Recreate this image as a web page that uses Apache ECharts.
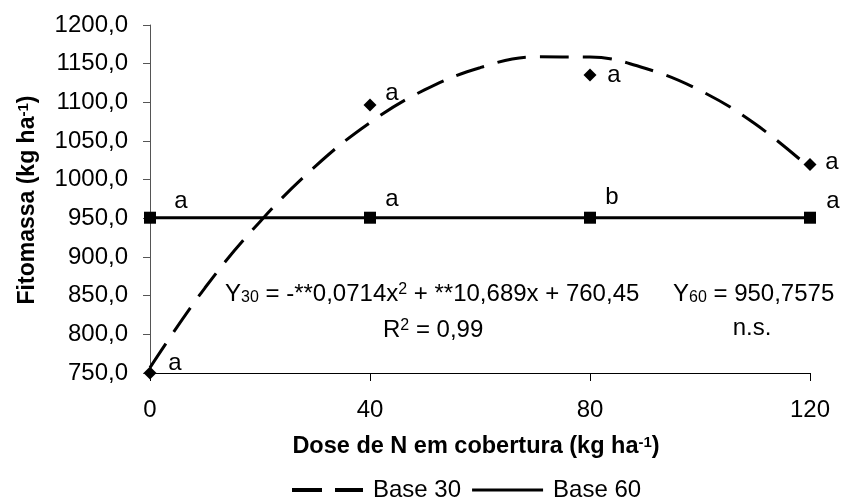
<!DOCTYPE html>
<html>
<head>
<meta charset="utf-8">
<script src="https://cdn.jsdelivr.net/npm/echarts@6/dist/echarts.min.js"></script>
<style>
  html, body { margin: 0; padding: 0; background: #fff; }
  #chart { width: 841px; height: 498px; }
</style>
</head>
<body>
<div id="chart"></div>
<script>
// Doses of N top-dressing (kg ha-1)
const doses = [0, 40, 80, 120];

// Observed biomass, Base 30 (diamonds) and Base 60 (squares)
const base30Obs = [750, 1096.5, 1135.3, 1019.5];
const base60Obs = [950.8, 950.8, 950.8, 950.8];

// Tukey letters written next to each point
const base30Letters = ['a', 'a', 'a', 'a'];
const base60Letters = ['a', 'a', 'b', 'a'];

// Base 30 fitted curve, read along its path
const curveX = [0, 10, 20, 30, 40, 50, 60, 70, 80, 90, 100, 110, 120];
const curveY = [757, 860.2, 945.7, 1016.9, 1073.8, 1116.4, 1144.8, 1158.8, 1158.6, 1144.1, 1115.4, 1072.3, 1015.0];

// Base 60 fitted (constant) line
const base60FitX = [0, 120];
const base60FitY = [950.7575, 950.7575];

// Axis ticks
const xTicks = [0, 40, 80, 120];
const yTicks = [750, 800, 850, 900, 950, 1000, 1050, 1100, 1150, 1200];

// Letter nudges (px) relative to each marker
const nudge30 = [[25, -10], [22, -12], [24, 0], [22, -2]];
const nudge60 = [[31, -16], [22, -18], [22, -20], [23, -16]];

const FONT = '"Liberation Sans", Arial, sans-serif';
const comma1 = v => v.toFixed(1).replace('.', ',');

function pointsWithLetters(xs, ys, letters, nudges) {
  return xs.map((x, i) => ({
    value: [x, ys[i]],
    label: { formatter: letters[i], offset: nudges[i] }
  }));
}

const chart = echarts.init(document.getElementById('chart'), null, { renderer: 'canvas' });

const dash = [29, 14];
// Legend swatches: long-dash and solid strokes
const iconDash = 'path://M0,0H30V4H0Z M43,0H71V4H43Z';
const iconSolid = 'path://M0,0.5H71V3.5H0Z';

chart.setOption({
  animation: false,
  backgroundColor: '#ffffff',
  textStyle: { fontFamily: FONT, color: '#000' },
  grid: { left: 150, right: 31, top: 25, bottom: 125, containLabel: false },
  xAxis: {
    type: 'value',
    min: xTicks[0],
    max: xTicks[xTicks.length - 1],
    interval: xTicks[1] - xTicks[0],
    axisLine: { lineStyle: { color: '#000', width: 1 } },
    axisTick: { show: true, length: 8, lineStyle: { color: '#000' } },
    axisLabel: { fontSize: 24, fontFamily: FONT, color: '#000', margin: 25 },
    splitLine: { show: false }
  },
  yAxis: {
    type: 'value',
    min: yTicks[0],
    max: yTicks[yTicks.length - 1],
    interval: yTicks[1] - yTicks[0],
    axisLine: { show: true, lineStyle: { color: '#555', width: 1 } },
    axisTick: { show: true, length: 7, lineStyle: { color: '#555' } },
    axisLabel: { fontSize: 24, fontFamily: FONT, color: '#000', margin: 22, formatter: comma1 },
    splitLine: { show: false }
  },
  legend: {
    left: 292,
    top: 478,
    padding: 0,
    itemWidth: 71,
    itemHeight: 4,
    itemGap: 11,
    textStyle: { fontSize: 24, fontFamily: FONT, color: '#000', padding: [0, 0, 0, 5] },
    data: [
      { name: 'Base 30', icon: iconDash, itemStyle: { color: '#000', opacity: 1 } },
      { name: 'Base 60', icon: iconSolid, itemStyle: { color: '#000', opacity: 1 } }
    ]
  },
  series: [
    {
      name: 'Base 30',
      type: 'line',
      data: curveX.map((x, i) => [x, curveY[i]]),
      smooth: 0.4,
      symbol: 'none',
      lineStyle: { color: '#000', width: 3, type: dash, cap: 'butt' },
      itemStyle: { color: '#000' },
      z: 2
    },
    {
      name: 'Base 60',
      type: 'line',
      data: base60FitX.map((x, i) => [x, base60FitY[i]]),
      symbol: 'none',
      lineStyle: { color: '#000', width: 3, type: 'solid' },
      itemStyle: { color: '#000' },
      z: 2
    },
    {
      name: 'Base 30 obs',
      type: 'scatter',
      data: pointsWithLetters(doses, base30Obs, base30Letters, nudge30),
      symbol: 'diamond',
      symbolSize: 13,
      itemStyle: { color: '#000', opacity: 1 },
      label: {
        show: true, position: 'inside', align: 'center', verticalAlign: 'middle',
        fontSize: 24, fontFamily: FONT, color: '#000'
      },
      z: 3
    },
    {
      name: 'Base 60 obs',
      type: 'scatter',
      data: pointsWithLetters(doses, base60Obs, base60Letters, nudge60),
      symbol: 'rect',
      symbolSize: 12,
      itemStyle: { color: '#000', opacity: 1 },
      label: {
        show: true, position: 'inside', align: 'center', verticalAlign: 'middle',
        fontSize: 24, fontFamily: FONT, color: '#000'
      },
      z: 3
    }
  ],
  graphic: [
    {
      type: 'text',
      x: 476, y: 447,
      style: {
        text: '{t|Dose de N em cobertura (kg ha}{s|-1}{t|)}',
        align: 'center', verticalAlign: 'middle',
        rich: {
          t: { fontSize: 23.5, fontWeight: 'bold', fontFamily: FONT, fill: '#000' },
          s: { fontSize: 15, fontWeight: 'bold', fontFamily: FONT, fill: '#000', verticalAlign: 'top' }
        }
      }
    },
    {
      type: 'text',
      x: 28, y: 200,
      rotation: Math.PI / 2,
      style: {
        text: '{t|Fitomassa (kg ha}{s|-1}{t|)}',
        align: 'center', verticalAlign: 'middle',
        rich: {
          t: { fontSize: 23, fontWeight: 'bold', fontFamily: FONT, fill: '#000' },
          s: { fontSize: 15, fontWeight: 'bold', fontFamily: FONT, fill: '#000', verticalAlign: 'top' }
        }
      }
    },
    {
      type: 'text',
      x: 225, y: 294,
      style: {
        text: '{t|Y}{b|30}{t| = -**0,0714x}{p|2}{t| + **10,689x + 760,45}',
        align: 'left', verticalAlign: 'middle',
        rich: {
          t: { fontSize: 24, fontFamily: FONT, fill: '#000' },
          b: { fontSize: 16, fontFamily: FONT, fill: '#000', verticalAlign: 'bottom', padding: [6, 0, 0, 0] },
          p: { fontSize: 16, fontFamily: FONT, fill: '#000', verticalAlign: 'top' }
        }
      }
    },
    {
      type: 'text',
      x: 383, y: 330,
      style: {
        text: '{t|R}{p|2}{t| = 0,99}',
        align: 'left', verticalAlign: 'middle',
        rich: {
          t: { fontSize: 24, fontFamily: FONT, fill: '#000' },
          p: { fontSize: 16, fontFamily: FONT, fill: '#000', verticalAlign: 'top' }
        }
      }
    },
    {
      type: 'text',
      x: 673, y: 294,
      style: {
        text: '{t|Y}{b|60}{t| = 950,7575}',
        align: 'left', verticalAlign: 'middle',
        rich: {
          t: { fontSize: 24, fontFamily: FONT, fill: '#000' },
          b: { fontSize: 16, fontFamily: FONT, fill: '#000', verticalAlign: 'bottom', padding: [6, 0, 0, 0] }
        }
      }
    },
    {
      type: 'text',
      x: 752, y: 328,
      style: {
        text: 'n.s.',
        align: 'center', verticalAlign: 'middle',
        fontSize: 24, fontFamily: FONT, fill: '#000'
      }
    }
  ]
});
</script>
</body>
</html>
